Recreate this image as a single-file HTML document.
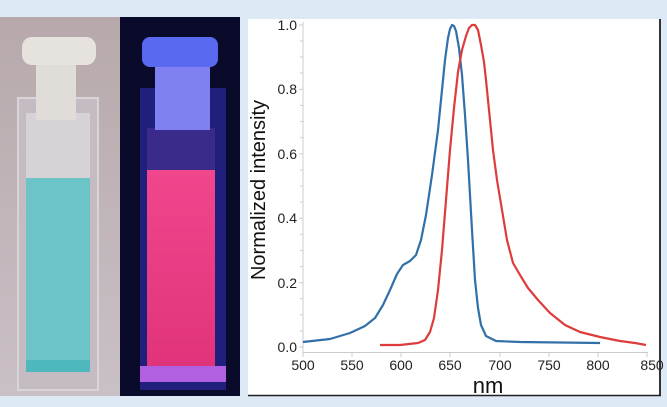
<!DOCTYPE html><html><head><style>
body{margin:0;width:667px;height:407px;background:#dde9f5;overflow:hidden;position:relative;font-family:"Liberation Sans",Arial,sans-serif}
</style></head><body>
<svg width="667" height="407" style="position:absolute;left:0;top:0">
<defs>
<linearGradient id="bgL" x1="0" x2="0" y1="0" y2="1"><stop offset="0" stop-color="#b7a9ab"/><stop offset="1" stop-color="#c9c0c6"/></linearGradient>
<linearGradient id="pink" x1="0" x2="0" y1="0" y2="1"><stop offset="0" stop-color="#f0468c"/><stop offset="1" stop-color="#e0337a"/></linearGradient>
</defs>
<rect x="0" y="17" width="120" height="379" fill="url(#bgL)"/>
<rect x="18" y="98" width="80" height="292" fill="#c4bcc2" stroke="#d8d4d8" stroke-width="2"/>
<rect x="26" y="113" width="64" height="70" fill="#d6d2d6"/>
<rect x="26" y="178" width="64" height="192" fill="#6cc4c8"/>
<rect x="26" y="360" width="64" height="12" fill="#4fb8bc"/>
<rect x="36" y="60" width="40" height="60" fill="#e0dcd8"/>
<rect x="22" y="37" width="74" height="28" rx="10" fill="#e6e2de"/>
<rect x="120" y="17" width="120" height="379" fill="#0a0a2a"/>
<rect x="140" y="88" width="86" height="302" fill="#2a2aa0" opacity="0.7"/>
<rect x="147" y="128" width="68" height="50" fill="#3a2a8a"/>
<rect x="147" y="170" width="68" height="200" fill="url(#pink)"/>
<rect x="140" y="366" width="86" height="16" fill="#b060e0"/>
<rect x="155" y="60" width="55" height="70" fill="#8080f0"/>
<rect x="142" y="37" width="76" height="30" rx="8" fill="#5a6af0"/>
<rect x="248" y="19" width="413" height="377" fill="#fff"/>
<line x1="660" y1="19" x2="660" y2="396" stroke="#333" stroke-width="2"/>
<line x1="248" y1="395.5" x2="661" y2="395.5" stroke="#222" stroke-width="1.5"/>
<g stroke="#ccc" stroke-width="1">
<line x1="303" y1="22" x2="303" y2="353"/>
<line x1="303" y1="352.5" x2="648" y2="352.5"/>
<line x1="299" y1="25" x2="303" y2="25"/><line x1="299" y1="89.4" x2="303" y2="89.4"/><line x1="299" y1="153.8" x2="303" y2="153.8"/><line x1="299" y1="218.2" x2="303" y2="218.2"/><line x1="299" y1="282.6" x2="303" y2="282.6"/><line x1="299" y1="347" x2="303" y2="347"/>
<line x1="300" y1="41" x2="303" y2="41"/><line x1="300" y1="57" x2="303" y2="57"/><line x1="300" y1="73" x2="303" y2="73"/><line x1="300" y1="105.5" x2="303" y2="105.5"/><line x1="300" y1="121.6" x2="303" y2="121.6"/><line x1="300" y1="137.7" x2="303" y2="137.7"/><line x1="300" y1="170" x2="303" y2="170"/><line x1="300" y1="186" x2="303" y2="186"/><line x1="300" y1="202" x2="303" y2="202"/><line x1="300" y1="234.3" x2="303" y2="234.3"/><line x1="300" y1="250.4" x2="303" y2="250.4"/><line x1="300" y1="266.5" x2="303" y2="266.5"/><line x1="300" y1="298.7" x2="303" y2="298.7"/><line x1="300" y1="314.8" x2="303" y2="314.8"/><line x1="300" y1="330.9" x2="303" y2="330.9"/>
<line x1="303" y1="352" x2="303" y2="357"/><line x1="352" y1="352" x2="352" y2="357"/><line x1="401" y1="352" x2="401" y2="357"/><line x1="450" y1="352" x2="450" y2="357"/><line x1="500" y1="352" x2="500" y2="357"/><line x1="549" y1="352" x2="549" y2="357"/><line x1="598" y1="352" x2="598" y2="357"/><line x1="647" y1="352" x2="647" y2="357"/>
</g>
<g font-size="14" fill="#222" text-anchor="end">
<text x="297" y="30">1.0</text><text x="297" y="94">0.8</text><text x="297" y="159">0.6</text><text x="297" y="223">0.4</text><text x="297" y="288">0.2</text><text x="297" y="352">0.0</text>
</g>
<g font-size="14" fill="#222" text-anchor="middle">
<text x="303" y="370">500</text><text x="352" y="370">550</text><text x="401" y="370">600</text><text x="450" y="370">650</text><text x="500" y="370">700</text><text x="549" y="370">750</text><text x="598" y="370">800</text><text x="652" y="370">850</text>
</g>
<text x="488" y="393" font-size="22" fill="#111" text-anchor="middle">nm</text>
<text transform="translate(265,190) rotate(-90)" font-size="20" fill="#111" text-anchor="middle">Normalized intensity</text>
<polyline fill="none" stroke="#3270a8" stroke-width="2.2" stroke-linejoin="round" points="303,342 330,339 350,333 365,326 375,318 383,305 390,290 397,274 403,265 410,261 416,255 421,240 426,215 432,175 438,130 442,90 445,60 448,38 450,29 452,25 454,26 456,31 459,48 462,75 465,115 468,160 472,230 475,280 478,308 481,325 486,336 496,341 520,342 600,343"/>
<polyline fill="none" stroke="#de3c3c" stroke-width="2.2" stroke-linejoin="round" points="380,345 400,345 418,343 425,340 430,332 434,318 438,290 442,250 446,200 450,150 454,108 458,72 462,50 466,36 469,28 472,25 475,25 478,30 481,45 484,62 486,80 489,110 493,150 497,180 502,210 507,240 513,263 520,275 528,288 538,300 550,313 565,325 580,332 600,337 620,341 635,343 646,345"/>
</svg>
</body></html>
